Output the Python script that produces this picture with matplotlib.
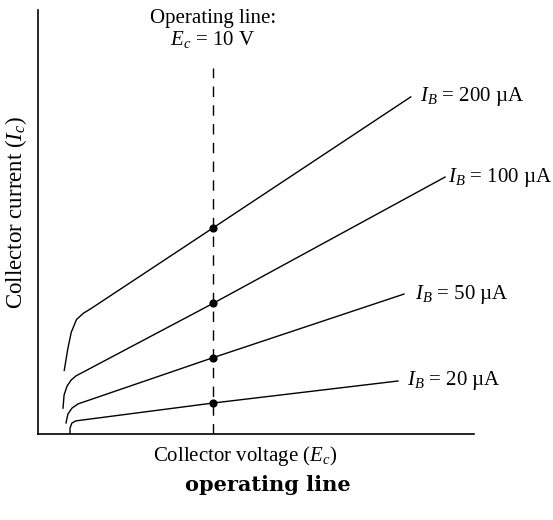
import numpy as np
import matplotlib
matplotlib.use('Agg')
import matplotlib.pyplot as plt

plt.rcParams['font.family'] = 'Liberation Serif'
plt.rcParams['mathtext.fontset'] = 'custom'
plt.rcParams['mathtext.rm'] = 'Liberation Serif'
plt.rcParams['mathtext.it'] = 'Liberation Serif:italic'

# collector characteristic curves (Ec in V, Ic in arbitrary units)
ec_200 = [1.5, 1.7, 1.9, 2.2, 2.6, 3.0, 10.0, 21.3]
ic_200 = [1.5, 2.0, 2.4, 2.7, 2.85, 2.95, 4.86, 7.95]
ec_100 = [1.43, 1.49, 1.66, 1.89, 2.17, 10.0, 23.26]
ic_100 = [0.61, 0.92, 1.13, 1.27, 1.37, 3.08, 6.06]
ec_50 = [1.6, 1.71, 1.94, 2.29, 10.0, 20.91]
ic_50 = [0.26, 0.47, 0.61, 0.71, 1.8, 3.30]
ec_20 = [1.83, 1.83, 1.94, 2.17, 10.0, 20.57]
ic_20 = [0.0, 0.14, 0.26, 0.31, 0.73, 1.25]

labels = ['200', '100', '50', '20']
label_x = [21.83, 23.43, 21.54, 21.09]
label_y = [7.95, 6.04, 3.28, 1.25]

op_voltage = 10.0
op_currents = [4.86, 3.08, 1.8, 0.73]

fig = plt.figure(figsize=(5.53, 5.20), dpi=100)
ax = fig.add_axes([38/553, 86/520, 436/553, 424/520])
ax.set_xlim(0, 436/17.5)
ax.set_ylim(0, 10)

for ec, ic in [(ec_200, ic_200), (ec_100, ic_100), (ec_50, ic_50), (ec_20, ic_20)]:
    ax.plot(ec, ic, color='black', lw=1.0, solid_joinstyle='round')

# operating line
ax.plot([op_voltage, op_voltage], [0, 8.63], color='black', lw=1.0, dashes=(7.5, 6))
ax.scatter([op_voltage]*4, op_currents, s=24, color='black', zorder=3)

for lab, x, y in zip(labels, label_x, label_y):
    ax.text(x, y, r'$I_B$ = ' + lab + ' µA', fontsize=15, va='center', ha='left')

ax.text(op_voltage, 9.8, 'Operating line:', fontsize=15, ha='center', va='center')
ax.text(op_voltage, 9.3, r'$E_c$ = 10 V', fontsize=15, ha='center', va='center')

for s in ['top', 'right']:
    ax.spines[s].set_visible(False)
for s in ['left', 'bottom']:
    ax.spines[s].set_linewidth(1.2)
ax.set_xticks([])
ax.set_yticks([])

fig.text(245/553, 1 - 456/520, r'Collector voltage ($E_c$)', fontsize=15, ha='center', va='center')
fig.text(16/553, 1 - 213/520, r'Collector current ($I_c$)', fontsize=16.5, ha='center', va='center', rotation=90)
fig.text(268/553, 1 - 485/520, 'operating line', fontsize=15, ha='center', va='center',
         family='DejaVu Serif', fontweight='bold')

fig.savefig('out.png', dpi=100)
